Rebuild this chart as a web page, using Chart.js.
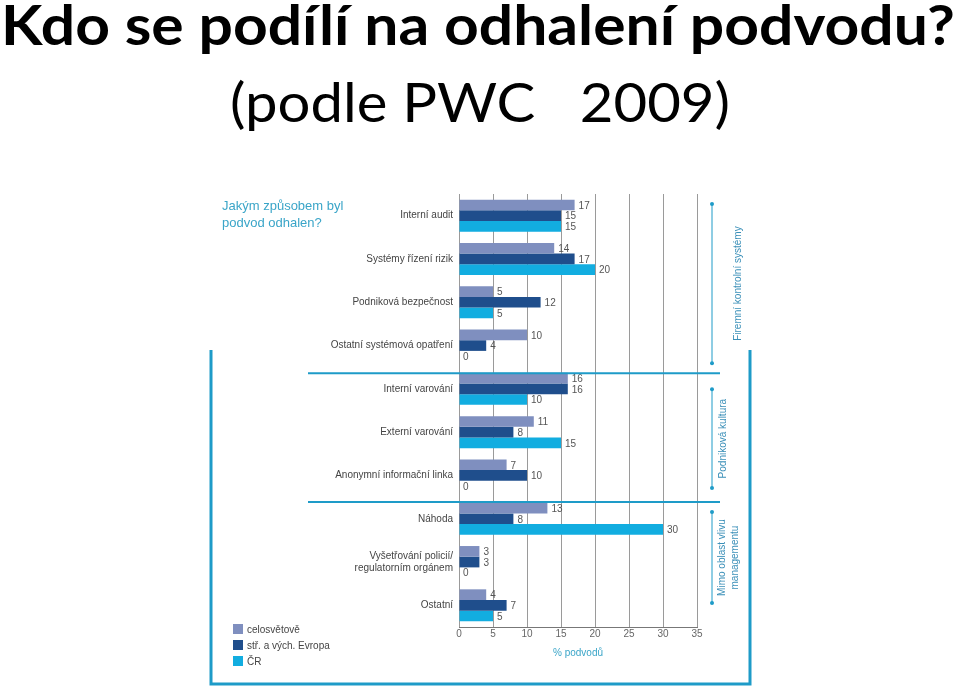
<!DOCTYPE html>
<html>
<head>
<meta charset="utf-8">
<script src="https://cdn.jsdelivr.net/npm/chart.js@4.4.1/dist/chart.umd.min.js"></script>
<style>
  html, body { margin: 0; padding: 0; background: #fff; }
  #wrap { position: relative; width: 959px; height: 691px; }
</style>
</head>
<body>
<div id="wrap"><canvas id="myChart" width="959" height="691"></canvas></div>
<script>
'use strict';
// categories (top to bottom)
let categories = [
  'Interní audit',
  'Systémy řízení rizik',
  'Podniková bezpečnost',
  'Ostatní systémová opatření',
  'Interní varování',
  'Externí varování',
  'Anonymní informační linka',
  'Náhoda',
  ['Vyšetřování policií/', 'regulatorním orgánem'],
  'Ostatní'
];
let seriesNames = ['celosvětově', 'stř. a vých. Evropa', 'ČR'];
let worldValues = [17, 14, 5, 10, 16, 11, 7, 13, 3, 4];
let ceeValues = [15, 17, 12, 4, 16, 8, 10, 8, 3, 7];
let czValues = [15, 20, 5, 0, 10, 15, 0, 30, 0, 5];
let xTicks = [0, 5, 10, 15, 20, 25, 30, 35];
let groupNames = ['Firemní kontrolní systémy', 'Podniková kultura', ['Mimo oblast vlivu', 'managementu']];

let colors = ['#7f8fbf', '#1f4e8c', '#12ade0'];
let frameColor = '#1e9bc8';

// draws text stretched to a given width (the original uses a narrow font)
function stretchedText(ctx, text, x, y, width){
  let w = ctx.measureText(text).width;
  ctx.save();
  ctx.translate(x, y);
  ctx.scale(width / w, 1);
  ctx.fillText(text, 0, 0);
  ctx.restore();
}

// labels at end of each bar
let valueLabels = {
  id: 'valueLabels',
  afterDatasetsDraw(chart){
    let ctx = chart.ctx;
    ctx.save();
    ctx.font = '10px "Liberation Sans", Arial, sans-serif';
    ctx.fillStyle = '#555';
    ctx.textBaseline = 'middle';
    ctx.textAlign = 'left';
    chart.data.datasets.forEach((ds, i) => {
      chart.getDatasetMeta(i).data.forEach((bar, j) => {
        ctx.fillText(String(ds.data[j]), bar.x + 4, bar.y + 1);
      });
    });
    ctx.restore();
  }
};

// title, frame, group separators, legend
let decorations = {
  id: 'decorations',
  beforeDraw(chart){
    let ctx = chart.ctx;
    ctx.save();
    ctx.fillStyle = '#fff';
    ctx.fillRect(0, 0, chart.width, chart.height);
    ctx.restore();
  },
  afterDraw(chart){
    let ctx = chart.ctx;
    let area = chart.chartArea;
    let y = chart.scales.y;
    ctx.save();

    // big heading
    ctx.fillStyle = '#000';
    ctx.textAlign = 'left';
    ctx.textBaseline = 'alphabetic';
    ctx.font = 'bold 55px Lato, "Open Sans", sans-serif';
    stretchedText(ctx, 'Kdo se podílí na odhalení podvodu?', 1, 45, 954);
    ctx.font = '54px Lato, "Open Sans", sans-serif';
    stretchedText(ctx, '(podle PWC   2009)', 230, 122, 500);

    // question
    ctx.fillStyle = '#3aa5c8';
    ctx.font = '13px "Liberation Sans", Arial, sans-serif';
    ctx.fillText('Jakým způsobem byl', 222, 210);
    ctx.fillText('podvod odhalen?', 222, 227);

    // frame
    ctx.strokeStyle = frameColor;
    ctx.lineWidth = 3;
    ctx.beginPath();
    ctx.moveTo(211, 350);
    ctx.lineTo(211, 684);
    ctx.lineTo(750, 684);
    ctx.lineTo(750, 350);
    ctx.stroke();

    // separators between groups
    let step = (y.getPixelForValue(1) - y.getPixelForValue(0));
    let sep1 = y.getPixelForValue(3) + step / 2 + 6;
    let sep2 = y.getPixelForValue(6) + step / 2 + 5;
    ctx.lineWidth = 2;
    [sep1, sep2].forEach(s => {
      ctx.beginPath();
      ctx.moveTo(308, s);
      ctx.lineTo(720, s);
      ctx.stroke();
    });

    // group brackets on the right
    let spans = [[area.top + 10, sep1 - 10], [sep1 + 16, sep2 - 14], [sep2 + 10, area.bottom - 24]];
    ctx.lineWidth = 1;
    ctx.fillStyle = frameColor;
    spans.forEach(sp => {
      ctx.beginPath();
      ctx.moveTo(712, sp[0]);
      ctx.lineTo(712, sp[1]);
      ctx.stroke();
      [sp[0], sp[1]].forEach(p => {
        ctx.beginPath();
        ctx.arc(712, p, 2, 0, Math.PI * 2);
        ctx.fill();
      });
    });
    ctx.fillStyle = '#3a8fb8';
    ctx.font = '10px "Liberation Sans", Arial, sans-serif';
    ctx.textAlign = 'center';
    ctx.textBaseline = 'middle';
    let xs = [738, 723];
    groupNames.forEach((g, i) => {
      let mid = (spans[i][0] + spans[i][1]) / 2;
      ctx.save();
      if (Array.isArray(g)) {
        ctx.translate(728, mid);
        ctx.rotate(-Math.PI / 2);
        ctx.fillText(g[0], 0, -6);
        ctx.fillText(g[1], 0, 7);
      } else {
        ctx.translate(xs[i], mid);
        ctx.rotate(-Math.PI / 2);
        ctx.fillText(g, 0, 0);
      }
      ctx.restore();
    });

    // legend
    ctx.textAlign = 'left';
    ctx.font = '10px "Liberation Sans", Arial, sans-serif';
    seriesNames.forEach((n, i) => {
      let ly = 629 + i * 16;
      ctx.fillStyle = colors[i];
      ctx.fillRect(233, ly - 5, 10, 10);
      ctx.fillStyle = '#444';
      ctx.fillText(n, 247, ly + 1);
    });
    ctx.restore();
  }
};

let ctx = document.getElementById('myChart');
let myChart = new Chart(ctx, {
  type: 'bar',
  data: {
    labels: categories,
    datasets: [
      { label: seriesNames[0], data: worldValues, backgroundColor: colors[0] },
      { label: seriesNames[1], data: ceeValues, backgroundColor: colors[1] },
      { label: seriesNames[2], data: czValues, backgroundColor: colors[2] }
    ]
  },
  options: {
    indexAxis: 'y',
    responsive: false,
    animation: false,
    categoryPercentage: 0.74,
    barPercentage: 1.0,
    layout: { padding: { left: 0, right: 262, top: 194, bottom: 32 } },
    plugins: {
      legend: { display: false },
      tooltip: { enabled: false }
    },
    scales: {
      x: {
        min: 0,
        max: 35,
        afterBuildTicks(scale){ scale.ticks = xTicks.map(v => ({ value: v })); },
        afterFit(scale){ scale.height = 32; },
        grid: { color: '#9a9a9a', lineWidth: 1, drawTicks: false },
        border: { color: '#777', width: 1 },
        ticks: {
          color: '#666',
          padding: 1,
          font: { family: '"Liberation Sans", Arial, sans-serif', size: 10 }
        },
        title: {
          display: true,
          text: '% podvodů',
          color: '#3aa5c8',
          padding: { top: 2, bottom: 0 },
          font: { family: '"Liberation Sans", Arial, sans-serif', size: 10 }
        }
      },
      y: {
        afterFit(scale){ scale.width = 459; },
        grid: { display: false, drawTicks: false },
        border: { display: false },
        ticks: {
          color: '#444',
          padding: 6,
          font: { family: '"Liberation Sans", Arial, sans-serif', size: 10 }
        }
      }
    }
  },
  plugins: [valueLabels, decorations]
});
</script>
</body>
</html>
